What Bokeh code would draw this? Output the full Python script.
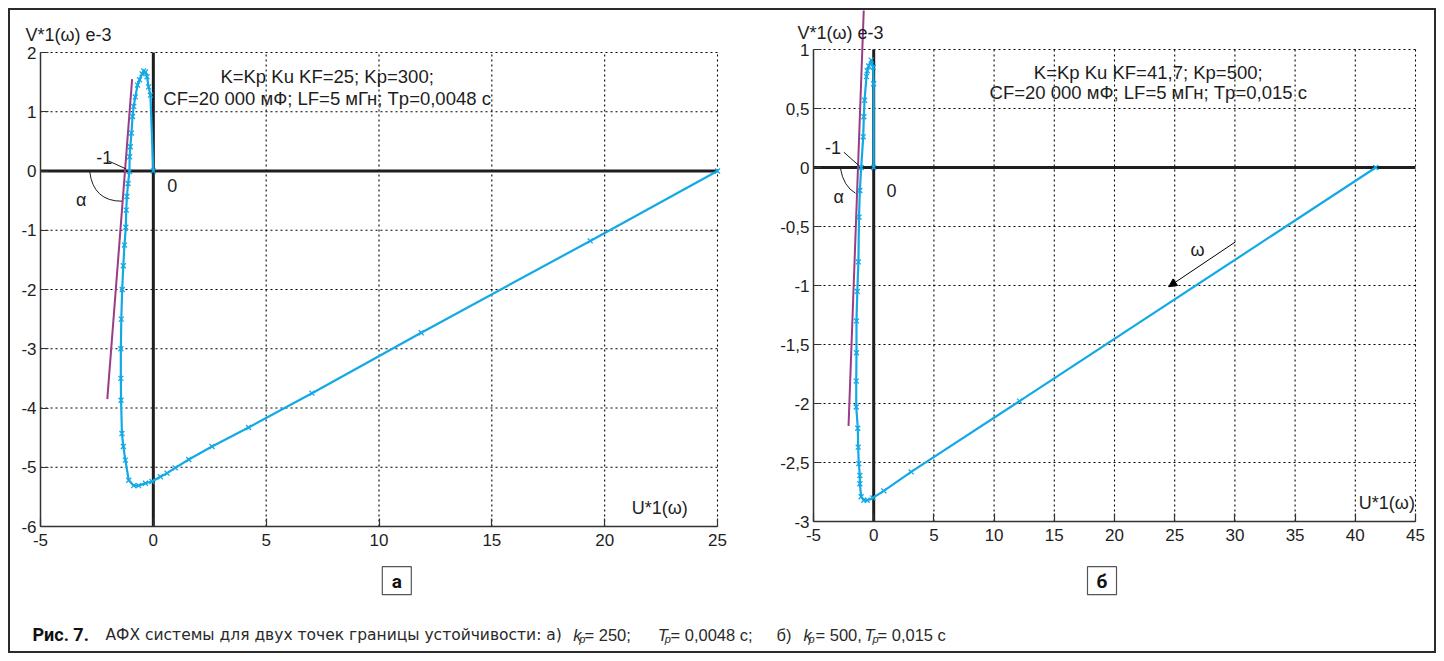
from bokeh.plotting import figure
from bokeh.models import Range1d, FixedTicker, Arrow, NormalHead
from bokeh.layouts import column, row
from bokeh.core.properties import value
from bokeh.embed import file_html
from bokeh.resources import INLINE

# ---------------- data ----------------
# chart а : K=25, Kp=300, Tp=0.0048
u_a = [25.0, 19.36, 11.87, 7.03, 4.22, 2.6, 1.57, 0.97, 0.61, 0.31, -0.06, -0.35, -0.65, -0.87,
       -1.09, -1.24, -1.33, -1.39, -1.43, -1.44, -1.44, -1.42, -1.38, -1.33, -1.28, -1.22, -1.20,
       -1.17, -1.12, -1.06, -1.05, -1.02, -0.97, -0.92, -0.87, -0.80, -0.70, -0.61, -0.50, -0.43,
       -0.35, -0.28, -0.21, -0.13, 0.0]
v_a = [0.0, -1.18, -2.73, -3.75, -4.33, -4.65, -4.87, -5.01, -5.10, -5.16, -5.24, -5.27, -5.31, -5.31,
       -5.22, -4.88, -4.65, -4.43, -3.87, -3.5, -3.0, -2.5, -2.0, -1.6, -1.25, -0.95, -0.66,
       -0.43, -0.21, -0.01, 0.24, 0.41, 0.64, 0.92, 1.09, 1.25, 1.45, 1.54, 1.64, 1.69,
       1.67, 1.59, 1.42, 1.28, 0.0]
# chart б : K=41.7, Kp=500, Tp=0.015
u_b = [41.7, 12.11, 3.11, 0.84, -0.07, -0.54, -0.82, -1.04, -1.15, -1.15, -1.24, -1.29, -1.32, -1.45,
       -1.45, -1.43, -1.43, -1.36, -1.27, -1.22, -1.15, -1.04, -0.87, -0.82, -0.76, -0.60, -0.54,
       -0.41, -0.21, -0.04, 0.0, 0.0]
v_b = [0.0, -1.98, -2.58, -2.74, -2.80, -2.82, -2.82, -2.79, -2.68, -2.61, -2.51, -2.37, -2.21, -2.03,
       -1.81, -1.57, -1.30, -1.05, -0.80, -0.42, -0.195, 0.0, 0.26, 0.43, 0.57, 0.77, 0.82,
       0.86, 0.91, 0.85, 0.71, 0.0]
# tangent lines (magenta)
tan_a_u = [-2.04, -0.94]
tan_a_v = [-3.85, 1.55]
tan_b_u = [-2.09, -0.82]
tan_b_v = [-2.19, 1.35]

# ticks
xt_a = [-5, 0, 5, 10, 15, 20, 25]
xl_a = ["-5", "0", "5", "10", "15", "20", "25"]
yt_a = [-6, -5, -4, -3, -2, -1, 0, 1, 2]
yl_a = ["-6", "-5", "-4", "-3", "-2", "-1", "0", "1", "2"]
xt_b = [-5, 0, 5, 10, 15, 20, 25, 30, 35, 40, 45]
xl_b = ["-5", "0", "5", "10", "15", "20", "25", "30", "35", "40", "45"]
yt_b = [-3, -2.5, -2, -1.5, -1, -0.5, 0, 0.5, 1]
yl_b = ["-3", "-2,5", "-2", "-1,5", "-1", "-0,5", "0", "0,5", "1"]

info_a = ["K=Kp Ku KF=25; Kp=300;", "CF=20 000 мФ; LF=5 мГн; Tp=0,0048 с"]
info_b = ["K=Kp Ku KF=41,7; Kp=500;", "CF=20 000 мФ; LF=5 мГн; Tp=0,015 с"]

BLUE = "#12a9e6"
MAG = "#9a3d86"
INK = "#1e1e1e"
FONT = "Liberation Sans"


def chart(width, height, pad, xt, xl, yt, yl, u, v, tu, tv, info, info_x, info_y,
          lab0, labm1, lead, alpha_pos, arc, vlab, ulab, ulab_align):
    # pad = pixel margins (left, right, top, bottom) between the tick box and the figure edge
    sx = (width - pad[0] - pad[1]) / (xt[-1] - xt[0])
    sy = (height - pad[2] - pad[3]) / (yt[-1] - yt[0])
    p = figure(width=width, height=height,
               x_range=Range1d(xt[0] - pad[0] / sx, xt[-1] + pad[1] / sx),
               y_range=Range1d(yt[0] - pad[3] / sy, yt[-1] + pad[2] / sy),
               toolbar_location=None, output_backend="svg", min_border=0)
    p.outline_line_color = None
    p.grid.visible = False
    p.background_fill_color = "white"
    p.border_fill_color = "white"
    for ax, ticks, labs in ((p.xaxis, xt, xl), (p.yaxis, yt, yl)):
        ax.ticker = FixedTicker(ticks=ticks)
        ax.major_label_overrides = {t: s for t, s in zip(ticks, labs)}
        ax.bounds = (ticks[0], ticks[-1])
        ax.major_tick_in = 8
        ax.major_tick_out = 0
        ax.minor_tick_line_color = None
        ax.axis_line_color = "#333333"
        ax.axis_line_width = 1.5
        ax.major_tick_line_color = "#333333"
        ax.major_tick_line_width = 1.2
        ax.major_label_text_font = FONT
        ax.major_label_text_font_size = "17px"
        ax.major_label_text_color = INK
    p.yaxis.fixed_location = xt[0]
    p.xaxis.fixed_location = yt[0]
    p.xaxis.major_label_standoff = 7
    p.yaxis.major_label_standoff = 4

    xmin, xmax, ymin, ymax = xt[0], xt[-1], yt[0], yt[-1]
    gx = [t for t in xt[1:] if t != 0]
    gy = [t for t in yt[1:] if t != 0]
    p.segment(x0=gx, y0=[ymin] * len(gx), x1=gx, y1=[ymax] * len(gx),
              line_color="black", line_width=1.1, line_dash="2 3")
    p.segment(x0=[xmin] * len(gy), y0=gy, x1=[xmax] * len(gy), y1=gy,
              line_color="black", line_width=1.1, line_dash="2 3")
    # zero axes
    p.segment(x0=[0, xmin], y0=[ymin, 0], x1=[0, xmax], y1=[ymax, 0],
              line_color=INK, line_width=3)

    p.line(tu, tv, line_color=MAG, line_width=2)
    p.line(u, v, line_color=BLUE, line_width=2.2)
    p.scatter(u, v, marker="x", size=7, line_color=BLUE, line_width=1.3)

    p.text(x=[info_x, info_x], y=info_y, text=info, text_font=value(FONT),
           text_font_size="18.5px", text_align="center", text_baseline="middle", text_color=INK)
    p.text(x=[lab0[0], labm1[0], alpha_pos[0]], y=[lab0[1], labm1[1], alpha_pos[1]],
           text=["0", "-1", "α"], text_font=value(FONT), text_font_size="18px",
           text_align="center", text_baseline="middle", text_color=INK)
    p.segment(x0=[lead[0]], y0=[lead[1]], x1=[lead[2]], y1=[lead[3]], line_color=INK, line_width=1)
    p.quadratic(x0=[arc[0]], y0=[arc[1]], cx=[arc[2]], cy=[arc[3]], x1=[arc[4]], y1=[arc[5]],
                line_color=INK, line_width=1)
    p.text(x=[ulab[0]], y=[ulab[1]], text=["U*1(ω)"], text_font=value(FONT), text_font_size="18px",
           text_align=ulab_align, text_baseline="middle", text_color=INK)
    p.text(x=[vlab[0]], y=[vlab[1]], text=["V*1(ω) e-3"], text_font=value(FONT),
           text_font_size="18px", text_align="left", text_baseline="middle", text_color=INK)
    return p


p1 = chart(760, 546, (30, 53, 42, 30), xt_a, xl_a, yt_a, yl_a,
           u_a, v_a, tan_a_u, tan_a_v,
           info_a, 7.7, [1.59, 1.23], (0.84, -0.25), (-2.17, 0.23), (-1.99, 0.17, -1.2, 0.034),
           (-3.2, -0.49), (-2.82, -0.01, -2.66, -0.51, -1.39, -0.51), (-5.67, 2.30),
           (21.2, -5.69), "left")

p2 = chart(664, 546, (43, 19, 39, 35), xt_b, xl_b, yt_b, yl_b,
           u_b, v_b, tan_b_u, tan_b_v,
           info_b, 22.8, [0.805, 0.636], (1.47, -0.195), (-3.38, 0.17), (-2.48, 0.13, -1.24, 0.017),
           (-2.9, -0.25), (-2.76, -0.008, -2.51, -0.161, -1.51, -0.218), (-6.33, 1.144),
           (44.95, -2.84), "right")
p2.add_layout(Arrow(end=NormalHead(size=8, fill_color="black", line_color="black"),
                    x_start=30.05, y_start=-0.63, x_end=24.5, y_end=-1.01,
                    line_color="black", line_width=1))
p2.text(x=[26.9], y=[-0.70], text=["ω"], text_font=value(FONT), text_font_size="18px",
        text_align="center", text_baseline="middle", text_color=INK)

# ---------------- caption panel (page-pixel coordinates) ----------------
p3 = figure(width=1424, height=95, x_range=Range1d(10, 1434), y_range=Range1d(651, 556),
            toolbar_location=None, output_backend="svg", x_axis_type=None, y_axis_type=None,
            min_border=0)
p3.grid.visible = False
p3.outline_line_color = None
p3.rect(x=[396.3, 1101.5], y=[580.2, 580.2], width=[29, 29], height=[28, 28],
        fill_color="white", line_color="#555555", line_width=1.2)
p3.text(x=[396.3, 1101.5], y=[581, 581], text=["а", "б"], text_font=value("Roboto"),
        text_font_style="bold", text_font_size="19px", text_align="center",
        text_baseline="middle", text_color="#111111")
p3.text(x=[32], y=[634], text=["Рис. 7."], text_font=value("Roboto"), text_font_style="bold",
        text_font_size="18px", text_baseline="alphabetic", text_color="#111111")
p3.text(x=[105], y=[634], text=["АФХ системы для двух точек границы устойчивости: а)"],
        text_font=value("DejaVu Sans"), text_font_size="15.5px",
        text_baseline="alphabetic", text_color="#2a2a2a")
num_x = [584, 670, 776, 815, 877]
num_t = ["= 250;", "= 0,0048 с;", "б)", "= 500,", "= 0,015 с"]
p3.text(x=num_x, y=[634] * len(num_x), text=num_t, text_font=value(FONT), text_font_size="16.5px",
        text_baseline="alphabetic", text_color="#2a2a2a")
it_x = [572.7, 657.3, 803, 864]
it_t = ["k", "T", "k", "T"]
p3.text(x=it_x, y=[634] * 4, text=it_t, text_font=value(FONT), text_font_style="italic",
        text_font_size="16.5px", text_baseline="alphabetic", text_color="#2a2a2a")
sub_x = [578.7, 664.3, 808, 872]
p3.text(x=sub_x, y=[638] * 4, text=["p"] * 4, text_font=value(FONT), text_font_style="italic",
        text_font_size="11px", text_baseline="alphabetic", text_color="#2a2a2a")

layout = column(row(p1, p2), p3, margin=(8, 0, 0, 8),
                styles={"border": "2px solid #2b2b2b", "background": "white"})

with open("out.html", "w") as f:
    f.write(file_html(layout, INLINE))
